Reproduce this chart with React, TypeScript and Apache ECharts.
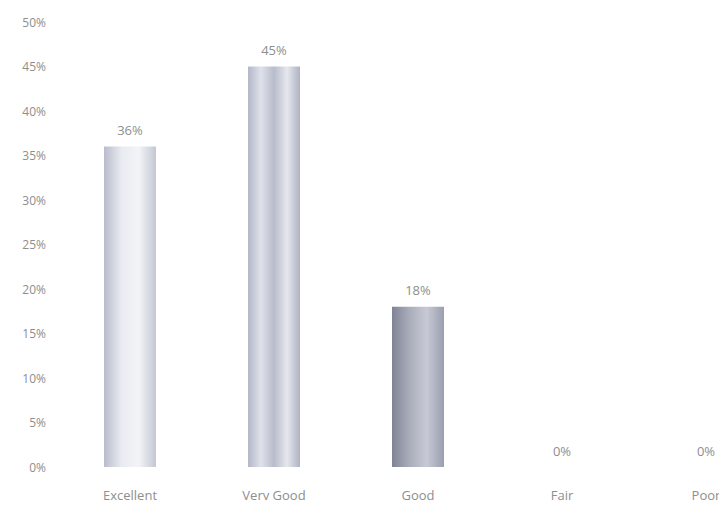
import React, { useEffect, useRef } from "react";
import * as echarts from "echarts";

const categories = ["Excellent", "Very Good", "Good", "Fair", "Poor"];
const values = [36, 45, 18, 0, 0];
const yTicks = { min: 0, max: 50, interval: 5 };

const barGradients = [
  ["#b9bccb", "#e9ebf1", "#f3f4f7", "#c4c7d4"],
  ["#b3b7c7", "#dfe2ea", "#b8bccb", "#e6e8ee", "#aeb2c2"],
  ["#7f8394", "#a9adbb", "#c7cad5", "#9a9eae"],
  ["#cccccc", "#cccccc"],
  ["#cccccc", "#cccccc"],
];

function grad(stops: string[]) {
  return new echarts.graphic.LinearGradient(
    0, 0, 1, 0,
    stops.map((c, i) => ({ offset: i / (stops.length - 1), color: c }))
  );
}

export default function App() {
  const ref = useRef<HTMLDivElement>(null);
  useEffect(() => {
    if (!ref.current) return;
    const chart = echarts.init(ref.current, undefined, { renderer: "svg" });
    chart.setOption({
      animation: false,
      backgroundColor: "#ffffff",
      grid: { left: 58, right: 2, top: 22, bottom: 41, containLabel: false },
      xAxis: {
        type: "category",
        data: categories,
        axisLine: { show: false },
        axisTick: { show: false },
        axisLabel: {
          color: "#8e8e8e",
          fontFamily: "Open Sans",
          fontSize: 13,
          margin: 21,
        },
      },
      yAxis: {
        type: "value",
        min: yTicks.min,
        max: yTicks.max,
        interval: yTicks.interval,
        axisLine: { show: false },
        axisTick: { show: false },
        splitLine: { show: false },
        axisLabel: {
          color: "#8e8e8e",
          fontFamily: "Open Sans",
          fontSize: 12,
          margin: 12,
          formatter: "{value}%",
        },
      },
      series: [
        {
          type: "bar",
          barWidth: 52,
          data: values.map((v, i) => ({
            value: v,
            itemStyle: { color: grad(barGradients[i]) },
          })),
          label: {
            show: true,
            position: "top",
            distance: 10,
            color: "#8e8e8e",
            fontFamily: "Open Sans",
            fontSize: 13,
            formatter: "{c}%",
          },
        },
      ],
    });
    return () => chart.dispose();
  }, []);
  return (
    <div style={{ width: 727, height: 508, margin: -8, overflow: "hidden" }}>
      <div ref={ref} style={{ width: 780, height: 508 }} />
    </div>
  );
}
